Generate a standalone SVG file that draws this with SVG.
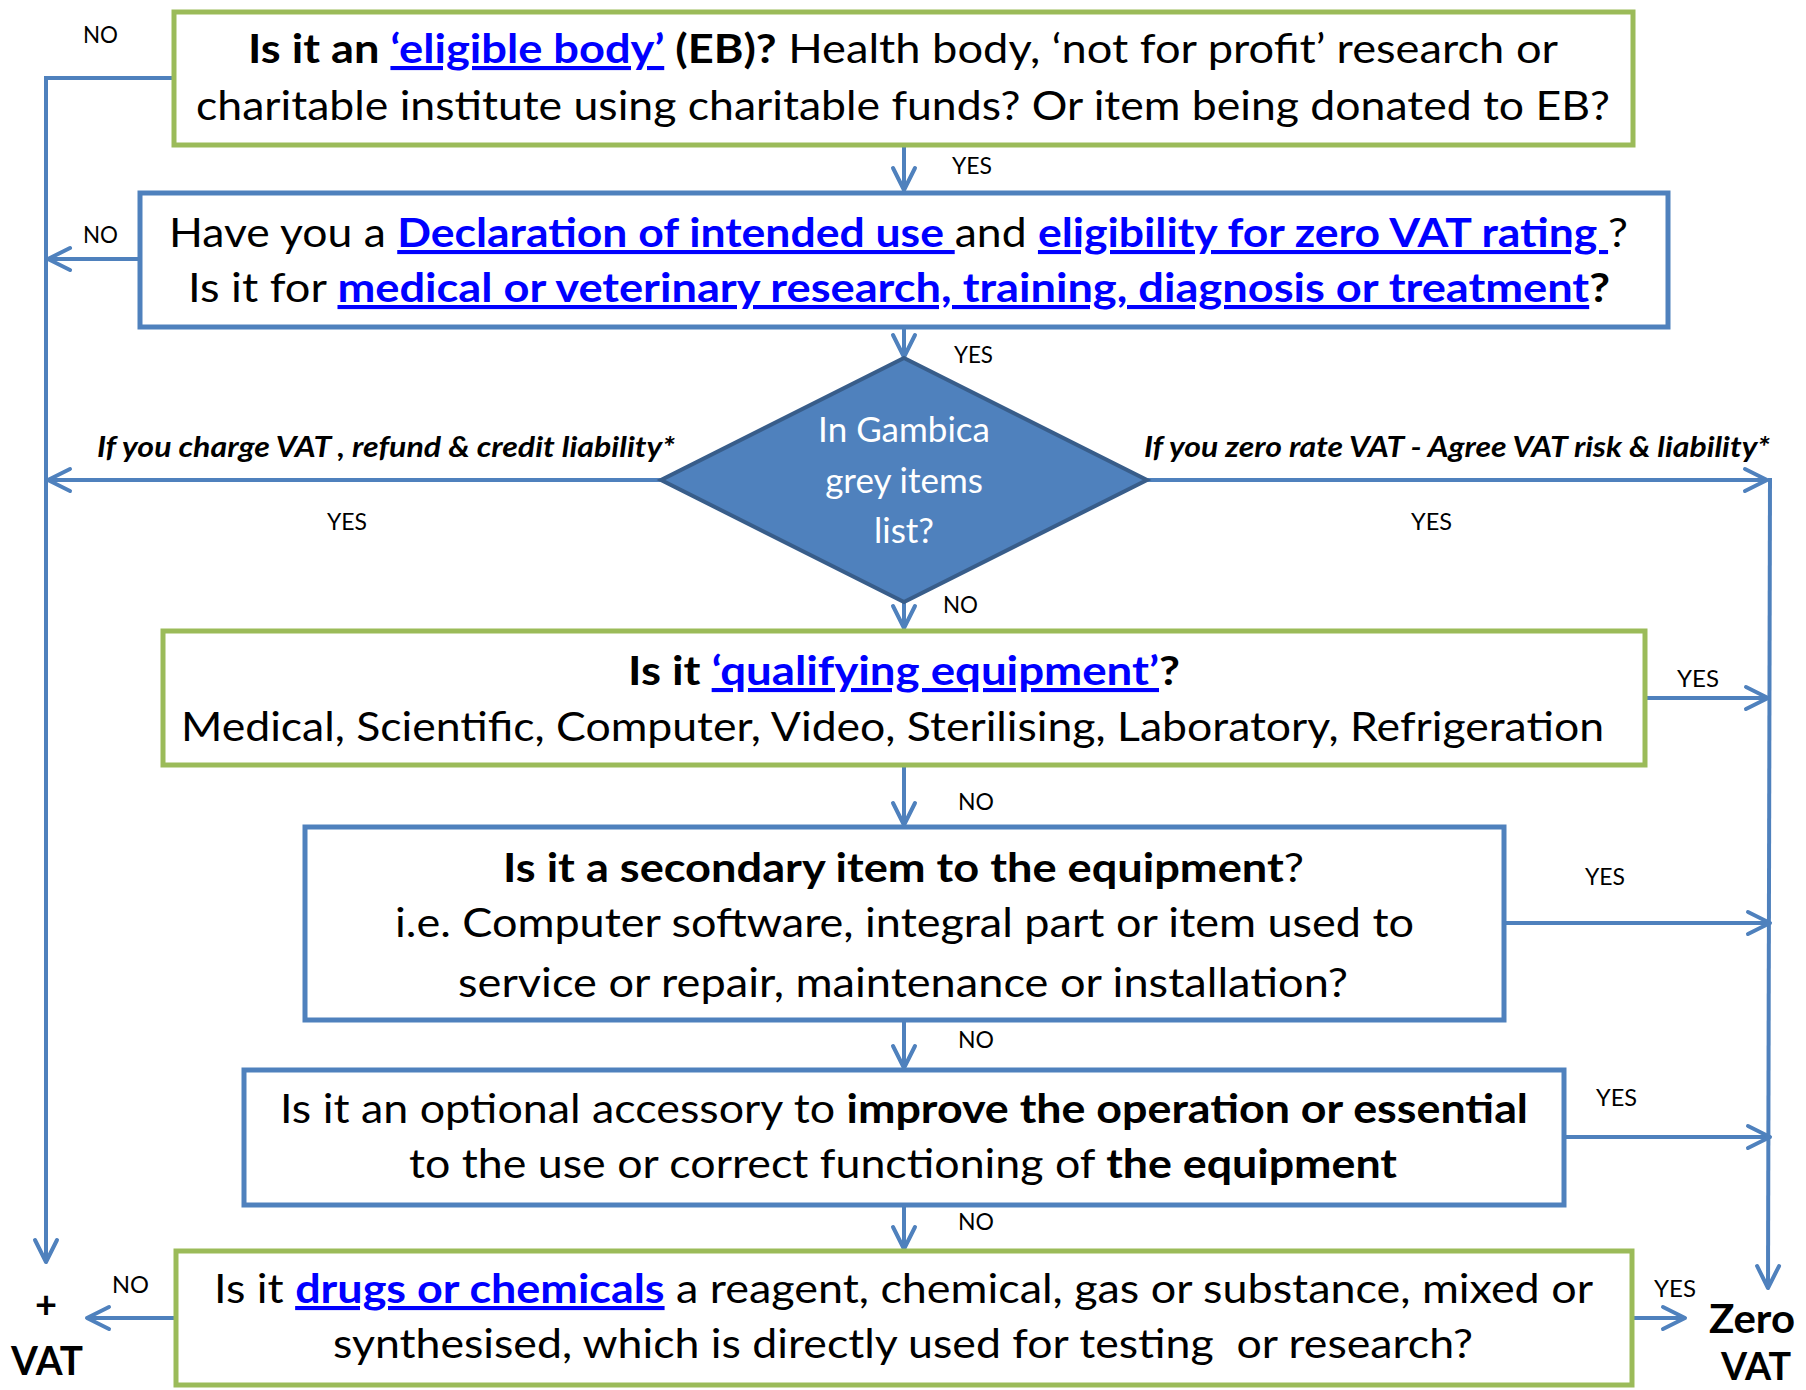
<svg xmlns="http://www.w3.org/2000/svg" width="1806" height="1390" viewBox="0 0 1806 1390">
<defs>
<style>
text{font-family:Lato,"Open Sans","Liberation Sans",sans-serif;fill:#000}
.m{font-size:41px}
.s{font-size:24px}
.b{font-weight:bold}
.lk{font-weight:bold;fill:#0000FF;text-decoration:underline}
.it{font-size:28px;font-weight:bold;font-style:italic}
.bg{fill:#fff;stroke:#9BBB59;stroke-width:5}
.bb{fill:#fff;stroke:#4F81BD;stroke-width:5}
.c{fill:none;stroke:#4F81BD;stroke-width:4;marker-end:url(#ah)}
</style>
<marker id="ah" markerUnits="userSpaceOnUse" viewBox="-26 -14 30 28" refX="0" refY="0" markerWidth="30" markerHeight="28" orient="auto" overflow="visible">
<path d="M-22,-11 L0,0 L-22,11" fill="none" stroke="#4F81BD" stroke-width="4" stroke-linejoin="round" stroke-linecap="round"/>
</marker>
</defs>
<rect width="1806" height="1390" fill="#fff"/>

<g id="connectors">
<polyline class="c" points="174,78 46,78 46,1262"/>
<line class="c" x1="139" y1="259" x2="48" y2="259"/>
<line class="c" x1="904" y1="146" x2="904" y2="190"/>
<line class="c" x1="904" y1="327" x2="904" y2="357"/>
<line class="c" x1="661" y1="480" x2="48" y2="480"/>
<line class="c" x1="1147" y1="480" x2="1767" y2="480"/>
<line class="c" x1="1770" y1="478" x2="1768" y2="1288"/>
<line class="c" x1="904" y1="602" x2="904" y2="628"/>
<line class="c" x1="1645" y1="698" x2="1768" y2="698"/>
<line class="c" x1="904" y1="766" x2="904" y2="825"/>
<line class="c" x1="1504" y1="923" x2="1770" y2="923"/>
<line class="c" x1="904" y1="1021" x2="904" y2="1068"/>
<line class="c" x1="1564" y1="1137" x2="1770" y2="1137"/>
<line class="c" x1="904" y1="1205" x2="904" y2="1249"/>
<line class="c" x1="176" y1="1318" x2="87" y2="1318"/>
<line class="c" x1="1632" y1="1318" x2="1685" y2="1318"/>
<path d="M1648,253 L1665,258 M1661,240 L1665,258" fill="none" stroke="#4F81BD" stroke-width="2"/>
<text class="s" x="83" y="43" textLength="35" lengthAdjust="spacingAndGlyphs">NO</text>
<text class="s" x="83" y="243" textLength="35" lengthAdjust="spacingAndGlyphs">NO</text>
<text class="s" x="952" y="174" textLength="40" lengthAdjust="spacingAndGlyphs">YES</text>
<text class="s" x="954" y="363" textLength="39" lengthAdjust="spacingAndGlyphs">YES</text>
<text class="s" x="327" y="530" textLength="40" lengthAdjust="spacingAndGlyphs">YES</text>
<text class="s" x="1411" y="530" textLength="41" lengthAdjust="spacingAndGlyphs">YES</text>
<text class="s" x="943" y="613" textLength="35" lengthAdjust="spacingAndGlyphs">NO</text>
<text class="s" x="1677" y="687" textLength="42" lengthAdjust="spacingAndGlyphs">YES</text>
<text class="s" x="958" y="810" textLength="36" lengthAdjust="spacingAndGlyphs">NO</text>
<text class="s" x="1585" y="885" textLength="40" lengthAdjust="spacingAndGlyphs">YES</text>
<text class="s" x="958" y="1048" textLength="36" lengthAdjust="spacingAndGlyphs">NO</text>
<text class="s" x="1596" y="1106" textLength="41" lengthAdjust="spacingAndGlyphs">YES</text>
<text class="s" x="958" y="1230" textLength="36" lengthAdjust="spacingAndGlyphs">NO</text>
<text class="s" x="112" y="1293" textLength="37" lengthAdjust="spacingAndGlyphs">NO</text>
<text class="s" x="1654" y="1297" textLength="42" lengthAdjust="spacingAndGlyphs">YES</text>
<text class="it" x="97" y="457" textLength="578" lengthAdjust="spacingAndGlyphs">If you charge VAT , refund &amp; credit liability*</text>
<text class="it" x="1144" y="457" textLength="626" lengthAdjust="spacingAndGlyphs">If you zero rate VAT - Agree VAT risk &amp; liability*</text>
</g>

<g id="eligible-body">
<rect class="bg" x="174" y="12" width="1459" height="133"/>
<text class="m" x="248" y="63" textLength="1310" lengthAdjust="spacingAndGlyphs"><tspan class="b">Is it an </tspan><tspan class="lk">‘eligible body’</tspan><tspan class="b"> (EB)?</tspan> Health body, ‘not for profit’ research or</text>
<text class="m" x="196" y="120" textLength="1414" lengthAdjust="spacingAndGlyphs">charitable institute using charitable funds? Or item being donated to EB?</text>
</g>

<g id="declaration">
<rect class="bb" x="140" y="193" width="1528" height="134"/>
<text class="m" x="169" y="247" textLength="1459" lengthAdjust="spacingAndGlyphs">Have you a <tspan class="lk">Declaration of intended use </tspan>and <tspan class="lk">eligibility for zero VAT rating </tspan>?</text>
<text class="m" x="188" y="302" textLength="1422" lengthAdjust="spacingAndGlyphs">Is it for <tspan class="lk">medical or veterinary research, training, diagnosis or treatment</tspan><tspan class="b">?</tspan></text>
</g>

<g id="gambica">
<polygon points="904,358 1147,480 904,602 661,480" fill="#4F81BD" stroke="#385D8A" stroke-width="4"/>
<text x="904" y="442" font-size="35" text-anchor="middle" style="fill:#fff">In Gambica</text>
<text x="904" y="493" font-size="35" text-anchor="middle" style="fill:#fff">grey items</text>
<text x="904" y="543" font-size="35" text-anchor="middle" style="fill:#fff">list?</text>
</g>

<g id="qualifying">
<rect class="bg" x="163" y="631" width="1482" height="134"/>
<text class="m" x="628" y="685" textLength="552" lengthAdjust="spacingAndGlyphs"><tspan class="b">Is it </tspan><tspan class="lk">‘qualifying equipment’</tspan><tspan class="b">?</tspan></text>
<text class="m" x="181" y="741" textLength="1423" lengthAdjust="spacingAndGlyphs">Medical, Scientific, Computer, Video, Sterilising, Laboratory, Refrigeration</text>
</g>

<g id="secondary">
<rect class="bb" x="305" y="827" width="1199" height="193"/>
<text class="m" x="503" y="882" textLength="801" lengthAdjust="spacingAndGlyphs"><tspan class="b">Is it a secondary item to the equipment</tspan>?</text>
<text class="m" x="395" y="937" textLength="1019" lengthAdjust="spacingAndGlyphs">i.e. Computer software, integral part or item used to</text>
<text class="m" x="458" y="997" textLength="890" lengthAdjust="spacingAndGlyphs">service or repair, maintenance or installation?</text>
</g>

<g id="accessory">
<rect class="bb" x="244" y="1070" width="1320" height="135"/>
<text class="m" x="280" y="1123" textLength="1248" lengthAdjust="spacingAndGlyphs">Is it an optional accessory to <tspan class="b">improve the operation or essential</tspan></text>
<text class="m" x="409" y="1178" textLength="988" lengthAdjust="spacingAndGlyphs">to the use or correct functioning of <tspan class="b">the equipment</tspan></text>
</g>

<g id="drugs">
<rect class="bg" x="176" y="1251" width="1456" height="134"/>
<text class="m" x="214" y="1303" textLength="1379" lengthAdjust="spacingAndGlyphs">Is it <tspan class="lk">drugs or chemicals</tspan> a reagent, chemical, gas or substance, mixed or</text>
<text class="m" x="333" y="1358" textLength="1140" lengthAdjust="spacingAndGlyphs">synthesised, which is directly used for testing&#160; or research?</text>
</g>

<g id="plus-vat">
<text x="46" y="1318" font-size="38" font-weight="bold" text-anchor="middle">+</text>
<text x="11" y="1375" font-size="40" font-weight="bold" textLength="72" lengthAdjust="spacingAndGlyphs">VAT</text>
</g>

<g id="zero-vat">
<text x="1709" y="1333" font-size="40" font-weight="bold" textLength="86" lengthAdjust="spacingAndGlyphs">Zero</text>
<text x="1721" y="1380" font-size="38" font-weight="bold" textLength="70" lengthAdjust="spacingAndGlyphs">VAT</text>
</g>
</svg>
